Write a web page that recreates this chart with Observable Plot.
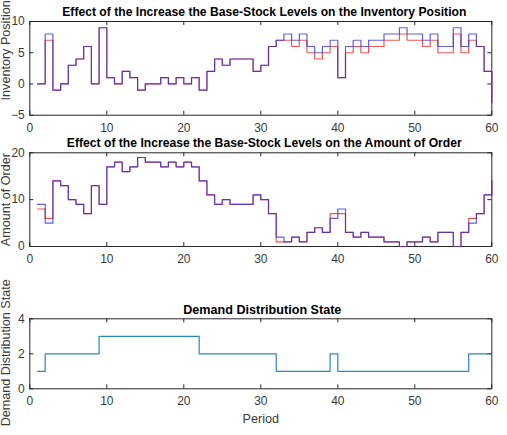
<!DOCTYPE html>
<html>
<head>
<meta charset="utf-8">
<script src="https://cdn.jsdelivr.net/npm/d3@7"></script>
<script src="https://cdn.jsdelivr.net/npm/@observablehq/plot@0.6"></script>
<style>
  html, body { margin: 0; padding: 0; background: #fff; }
  #chart { width: 507px; height: 435px; position: relative; overflow: hidden; }
  #chart svg { display: block; overflow: visible; }
</style>
</head>
<body>
<div id="chart"></div>
<script>
// Periods 1..60
const periods = d3.range(1, 61);

// Inventory position: base-stock levels (red) and increased levels (blue)
const inventoryBase = [
  0, 7, -1, 0, 3, 4, 6, 0, 9, 1,
  0, 2, 1, -1, 0, 0, 1, 0, 1, 0,
  1, -1, 2, 4, 3, 4, 4, 4, 2, 3,
  6, 7, 7, 6, 7, 5, 4, 5, 6, 1,
  5, 6, 5, 6, 6, 7, 7, 8, 7, 7,
  6, 7, 5, 5, 8, 5, 7, 6, 2, -3
];
const inventoryIncreased = [
  0, 8, -1, 0, 3, 4, 6, 0, 9, 1,
  0, 2, 1, -1, 0, 0, 1, 0, 1, 0,
  1, -1, 2, 4, 3, 4, 4, 4, 2, 3,
  6, 7, 8, 7, 8, 6, 5, 6, 7, 1,
  6, 7, 6, 7, 7, 8, 8, 9, 8, 8,
  7, 8, 6, 6, 9, 6, 8, 6, 2, -3
];

// Amount of order: base (red) and increased (blue)
const orderBase = [
  8, 6, 14, 13, 10, 9, 7, 13, 9, 17,
  18, 16, 17, 19, 18, 18, 17, 18, 17, 18,
  17, 14, 11, 9, 10, 9, 9, 9, 11, 10,
  7, 1, 1, 2, 1, 3, 4, 3, 7, 7,
  3, 2, 3, 2, 2, 1, 1, 0, 1, 1,
  2, 1, 3, 3, 0, 3, 6, 7, 11, 14
];
const orderIncreased = [
  9, 5, 14, 13, 10, 9, 7, 13, 9, 17,
  18, 16, 17, 19, 18, 18, 17, 18, 17, 18,
  17, 14, 11, 9, 10, 9, 9, 9, 11, 10,
  7, 2, 1, 2, 1, 3, 4, 3, 6, 8,
  3, 2, 3, 2, 2, 1, 1, 0, 1, 1,
  2, 1, 3, 3, 0, 3, 5, 7, 11, 14
];

// Demand distribution state per period
const demandState = [
  1, 2, 2, 2, 2, 2, 2, 2, 3, 3,
  3, 3, 3, 3, 3, 3, 3, 3, 3, 3,
  3, 2, 2, 2, 2, 2, 2, 2, 2, 2,
  2, 1, 1, 1, 1, 1, 1, 1, 2, 1,
  1, 1, 1, 1, 1, 1, 1, 1, 1, 1,
  1, 1, 1, 1, 1, 1, 2, 2, 2, 2
];

// Tick labels
const periodTicks = [0, 10, 20, 30, 40, 50, 60];
const inventoryTicks = [-5, 0, 5, 10];
const orderTicks = [0, 10, 20];
const stateTicks = [0, 2, 4];

const titles = [
  "Effect of the Increase the Base-Stock Levels on the Inventory Position",
  "Effect of the Increase the Base-Stock Levels on the Amount of Order",
  "Demand Distribution State"
];
const yLabels = ["Inventory Position", "Amount of Order", "Demand Distribution State"];
const xLabel = "Period";

const FONT = "'Liberation Sans', Arial, Helvetica, sans-serif";
const AXIS = "#262626";
const LABEL = "#3a3a3a";
const RED = "#f03a3a";
const BLUE = "#2b2bd6";
const STATE = "#0072BD";
const WIDTH = 507;
const ML = 29.3, MR = 15.7, TICK = 4;

function panel({height, mt, mb, yDomain, yTicks, series, title, titleSize, titleDx, titleDy, yLabel, labelDy, xTitle}) {
  const frameH = height - mt - mb;
  const frameW = WIDTH - ML - MR;
  const marks = [
    Plot.frame({stroke: AXIS, strokeWidth: 1}),
    // inward ticks on all four sides
    Plot.ruleX(periodTicks, {stroke: AXIS, insetTop: frameH - TICK}),
    Plot.ruleX(periodTicks, {stroke: AXIS, insetBottom: frameH - TICK}),
    Plot.ruleY(yTicks, {stroke: AXIS, insetRight: frameW - TICK}),
    Plot.ruleY(yTicks, {stroke: AXIS, insetLeft: frameW - TICK}),
    Plot.axisX(periodTicks, {tickSize: 0, tickPadding: 8, fontSize: 12, fill: LABEL, label: null}),
    Plot.axisY(yTicks, {tickSize: 0, tickPadding: 5, fontSize: 12, fill: LABEL, label: null}),
    ...series.map(s => Plot.line(s.values.map((v, i) => ({period: periods[i], value: v})), {
      x: "period", y: "value", curve: "step-after",
      stroke: s.color, strokeWidth: 1.2, strokeOpacity: s.opacity ?? 1
    })),
    Plot.text([title], {
      text: d => d, frameAnchor: "top", textAnchor: "middle", dx: titleDx, dy: titleDy,
      fontWeight: "bold", fontSize: titleSize, fill: "#000", lineAnchor: "middle"
    }),
    Plot.text([yLabel], {
      text: d => d, frameAnchor: "left", textAnchor: "middle", rotate: -90, dx: -24, dy: labelDy,
      fontSize: 12.6, fill: LABEL, lineAnchor: "middle"
    })
  ];
  if (xTitle) {
    marks.push(Plot.text([xTitle], {
      text: d => d, frameAnchor: "bottom", textAnchor: "middle", dy: 30,
      fontSize: 12.6, fill: LABEL, lineAnchor: "middle"
    }));
  }
  return Plot.plot({
    width: WIDTH, height,
    marginLeft: ML, marginRight: MR, marginTop: mt, marginBottom: mb,
    style: {fontFamily: FONT, background: "transparent", overflow: "visible"},
    x: {domain: [0, 60]},
    y: {domain: yDomain},
    marks
  });
}

const chart = document.getElementById("chart");

chart.appendChild(panel({
  height: 135, mt: 21, mb: 20.3,
  yDomain: [-5, 10], yTicks: inventoryTicks,
  series: [
    {values: inventoryBase, color: RED, opacity: 0.85},
    {values: inventoryIncreased, color: BLUE, opacity: 0.75}
  ],
  title: titles[0], titleSize: 12.15, titleDx: 3.5, titleDy: -9.5,
  yLabel: yLabels[0], labelDy: -18
}));

chart.appendChild(panel({
  height: 135, mt: 17.3, mb: 24,
  yDomain: [0, 20], yTicks: orderTicks,
  series: [
    {values: orderBase, color: RED, opacity: 0.85},
    {values: orderIncreased, color: BLUE, opacity: 0.75}
  ],
  title: titles[1], titleSize: 12.15, titleDx: 3.5, titleDy: -9.3,
  yLabel: yLabels[1], labelDy: 0
}));

chart.appendChild(panel({
  height: 165, mt: 48.3, mb: 46.7,
  yDomain: [0, 4], yTicks: stateTicks,
  series: [{values: demandState, color: STATE, opacity: 0.85}],
  title: titles[2], titleSize: 12.6, titleDx: 1.5, titleDy: -9.3,
  yLabel: yLabels[2], labelDy: -1, xTitle: xLabel
}));
</script>
</body>
</html>
